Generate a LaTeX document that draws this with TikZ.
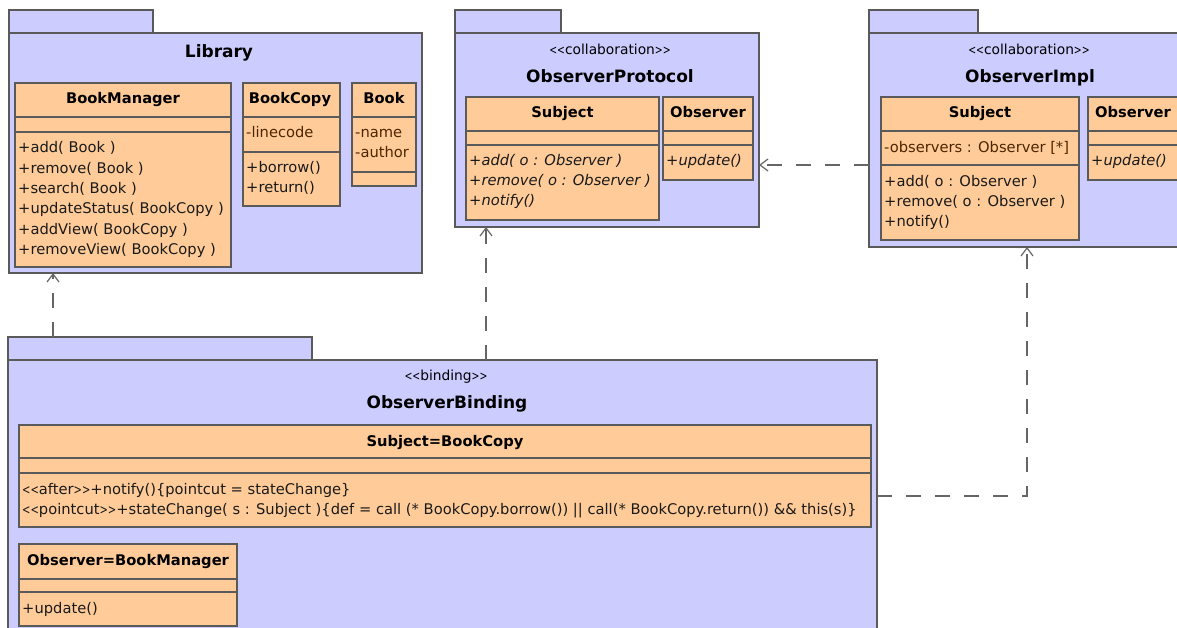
\documentclass[tikz,border=0pt]{standalone}
\usepackage{fontspec}
\usepackage{graphicx}
\setmainfont{DejaVu Sans}
\usetikzlibrary{arrows.meta}

\definecolor{pkgfill}{HTML}{CCCCFF}
\definecolor{clsfill}{HTML}{FFCC99}
\definecolor{edgecol}{HTML}{5A5A5A}
\definecolor{depcol}{HTML}{666666}
\definecolor{attrtext}{HTML}{4D2600}
\definecolor{optext}{HTML}{1A1A1A}

% narrow stereotype brackets, typed as separate characters
\newcommand\nlt{\scalebox{0.68}[0.92]{<}}
\newcommand\ngt{\scalebox{0.68}[0.92]{>}}
\newcommand\stl{\nlt\nlt}
\newcommand\str{\ngt\ngt}

\tikzset{
  pkg/.style={draw=edgecol, fill=pkgfill, line width=1.2pt, anchor=north west, inner sep=0pt, outer sep=0pt},
  cls/.style={draw=edgecol, fill=clsfill, line width=1.2pt, anchor=north west, inner sep=0pt, outer sep=0pt},
  sepline/.style={draw=edgecol, line width=1.2pt},
  pkgtitle/.style={font=\fontsize{17}{20}\selectfont\bfseries, anchor=base, inner sep=0pt},
  stereo/.style={font=\fontsize{13.8}{16}\selectfont, anchor=base, inner sep=0pt},
  clshead/.style={font=\fontsize{14.7}{17}\selectfont\bfseries, anchor=base, inner sep=0pt},
  attr/.style={font=\fontsize{14.7}{17}\selectfont, text=attrtext, anchor=base west, inner sep=0pt},
  oper/.style={font=\fontsize{14.7}{17}\selectfont, text=optext, anchor=base west, inner sep=0pt},
  abstop/.style={font=\fontsize{14.7}{17}\selectfont\itshape, text=optext, anchor=base west, inner sep=0pt},
  dep/.style={draw=depcol, line width=1.2pt, dash pattern=on 15pt off 14pt,
              -{Straight Barb[length=8pt,width=12pt]}}
}

% class box: name, left, top, width, height, compartment divider rows
\newcommand\umlcls[6]{%
  \node[cls, minimum width=#4pt, minimum height=#5pt] (#1) at (#2,#3) {};
  \foreach \d in {#6} {\draw[sepline] (#2,\d) -- ++(#4,0);}
}

\begin{document}
\begin{tikzpicture}[x=1pt,y=-1pt]
\useasboundingbox (0,0) rectangle (1177,628);
\fill[white] (0,0) rectangle (1177,628);
\clip (0,0) rectangle (1177,628);

% ---------- Library ----------
\node[pkg, minimum width=144pt, minimum height=23pt] (libtab) at (9,10) {};
\node[pkg, minimum width=413pt, minimum height=240pt] (lib) at (9,33) {};
\node[pkgtitle] (libT) at (219,58) {Library};

\umlcls{bm}{15}{83}{216}{184}{117,132}
\node[clshead] (bmH) at (123,104) {BookManager};
\node[oper] (bm1) at (18,153) {+add( Book )};
\node[oper] (bm2) at (18,173.3) {+remove( Book )};
\node[oper] (bm3) at (18,193.6) {+search( Book )};
\node[oper] (bm4) at (18,213.9) {+updateStatus( BookCopy )};
\node[oper] (bm5) at (18,234.2) {+addView( BookCopy )};
\node[oper] (bm6) at (18,254.5) {+removeView( BookCopy )};

\umlcls{bc}{243}{83}{97}{123}{117,152}
\node[clshead] (bcH) at (290,104) {BookCopy};
\node[attr] (bc1) at (246,138) {-linecode};
\node[oper] (bc2) at (246,173) {+borrow()};
\node[oper] (bc3) at (246,193) {+return()};

\umlcls{bk}{352}{83}{64}{103}{117,172}
\node[clshead] (bkH) at (384,104) {Book};
\node[attr] (bk1) at (355,138) {-name};
\node[attr] (bk2) at (355,158) {-author};

% ---------- ObserverProtocol ----------
\node[pkg, minimum width=106pt, minimum height=23pt] (prototab) at (455,10) {};
\node[pkg, minimum width=304pt, minimum height=194pt] (proto) at (455,33) {};
\node[stereo] (protoS) at (610,55) {\stl collaboration\str};
\node[pkgtitle] (protoT) at (610,83) {ObserverProtocol};

\umlcls{ps}{466}{97}{193}{123}{131,145}
\node[clshead] (psH) at (562.5,118) {Subject};
\node[abstop] (ps1) at (469,166) {+add( o : Observer )};
\node[abstop] (ps2) at (469,186) {+remove( o : Observer )};
\node[abstop] (ps3) at (469,206) {+notify()};

\umlcls{po}{663}{97}{90}{83}{131,145}
\node[clshead] (poH) at (708,118) {Observer};
\node[abstop] (po1) at (666,166) {+update()};

% ---------- ObserverImpl ----------
\node[pkg, minimum width=109pt, minimum height=23pt] (impltab) at (869,10) {};
\node[pkg, minimum width=320pt, minimum height=214pt] (impl) at (869,33) {};
\node[stereo] (implS) at (1029,55) {\stl collaboration\str};
\node[pkgtitle] (implT) at (1030,83) {ObserverImpl};

\umlcls{is}{881}{97}{198}{143}{131,165}
\node[clshead] (isH) at (980,118) {Subject};
\node[attr] (is1) at (884,153) {-observers : Observer [*]};
\node[oper] (is2) at (884,187) {+add( o : Observer )};
\node[oper] (is3) at (884,207) {+remove( o : Observer )};
\node[oper] (is4) at (884,227) {+notify()};

\umlcls{io}{1088}{97}{90}{83}{131,145}
\node[clshead] (ioH) at (1133,118) {Observer};
\node[abstop] (io1) at (1091,166) {+update()};

% ---------- ObserverBinding ----------
\node[pkg, minimum width=304pt, minimum height=23pt] (bindtab) at (8,337) {};
\node[pkg, minimum width=869pt, minimum height=290pt] (bind) at (8,360) {};
\node[stereo] (bindS) at (446,380) {\stl binding\str};
\node[pkgtitle] (bindT) at (447,408) {ObserverBinding};

\umlcls{sb}{19}{425}{852}{102}{458,473}
\node[clshead] (sbH) at (445,446) {Subject=BookCopy};
\node[oper] (sb1) at (22,494) {\stl after\str+notify()\{pointcut = stateChange\}};
\node[oper] (sb2) at (22,514) {\stl pointcut\str+stateChange( s : Subject )\{def = call (* BookCopy.borrow()) || call(* BookCopy.return()) \&\& this(s)\}};

\umlcls{ob}{19}{544}{218}{82}{579,592}
\node[clshead] (obH) at (128,565) {Observer=BookManager};
\node[oper] (ob1) at (22,613) {+update()};

% ---------- dependencies ----------
\coordinate (d1) at (53,0);
\coordinate (d2) at (486,0);
\coordinate (d3) at (0,165);
\coordinate (d4) at (1027,496);

\draw[dep] (bindtab.north -| d1) -- (lib.south -| d1);
\draw[dep] (bind.north -| d2) -- (proto.south -| d2);
\draw[dep] (impl.west |- d3) -- (proto.east |- d3);
\draw[dep] (bind.east |- d4) -| (impl.south -| d4);
\end{tikzpicture}
\end{document}
